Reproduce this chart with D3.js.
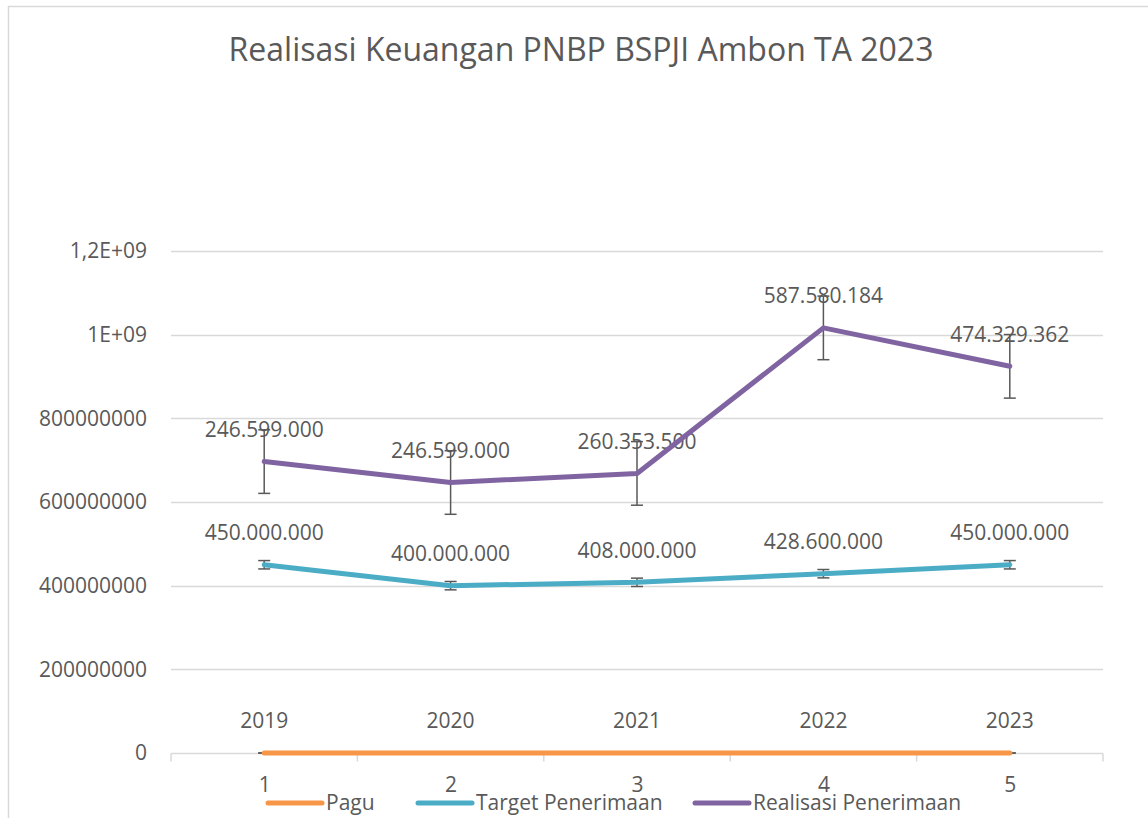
<!DOCTYPE html>
<html>
<head>
<meta charset="utf-8">
<script src="https://cdn.jsdelivr.net/npm/d3@7"></script>
<style>
  html, body { margin: 0; padding: 0; background: #fff; }
  svg { display: block; font-family: "Open Sans", sans-serif; }
</style>
</head>
<body>
<script>
// data (stacked line chart)
const categories = [1, 2, 3, 4, 5];
const pagu = [2019, 2020, 2021, 2022, 2023];
const target = [450000000, 400000000, 408000000, 428600000, 450000000];
const realisasi = [246599000, 246599000, 260353500, 587580184, 474329362];
const errPagu = 0;
const errTarget = 10000000;
const errRealisasi = 76000000;
const yTicks = [0, 200000000, 400000000, 600000000, 800000000, 1000000000, 1200000000];
const yTickLabels = ["0", "200000000", "400000000", "600000000", "800000000", "1E+09", "1,2E+09"];

const width = 1148, height = 818;
const txt = "#595959", grid = "#d9d9d9";
const fs = 21;

const idFmt = d3.formatLocale({decimal: ",", thousands: ".", grouping: [3], currency: ["Rp", ""]}).format(",d");

const series = [
  {name: "Pagu", color: "#f79646", values: pagu, err: errPagu, fmt: d => String(d)},
  {name: "Target Penerimaan", color: "#4bacc6", values: target, err: errTarget, fmt: idFmt},
  {name: "Realisasi Penerimaan", color: "#8064a2", values: realisasi, err: errRealisasi, fmt: idFmt}
];

// stacked cumulative values
let acc = categories.map(() => 0);
series.forEach(s => {
  s.points = categories.map((c, i) => {
    acc[i] += s.values[i];
    return {cat: c, value: s.values[i], top: acc[i]};
  });
});

const svg = d3.select("body").append("svg").attr("width", width).attr("height", height);

// chart frame
svg.append("rect")
  .attr("x", 8.5).attr("y", 6.5).attr("width", 1200).attr("height", 900)
  .attr("fill", "none").attr("stroke", grid).attr("stroke-width", 1.5);

const x = d3.scalePoint().domain(categories).range([171, 1103]).padding(0.5);
const xBand = d3.scaleBand().domain(categories).range([171, 1103]);
const y = d3.scaleLinear().domain([0, 1200000000]).range([753, 251]);

svg.append("text")
  .attr("x", 581).attr("y", 61)
  .attr("text-anchor", "middle")
  .attr("fill", txt)
  .attr("font-size", 32)
  .text("Realisasi Keuangan PNBP BSPJI Ambon TA 2023");

// gridlines
svg.append("g").selectAll("line")
  .data(yTicks.slice(1))
  .join("line")
  .attr("x1", 171).attr("x2", 1103)
  .attr("y1", d => Math.round(y(d)) + 0.5).attr("y2", d => Math.round(y(d)) + 0.5)
  .attr("stroke", grid).attr("stroke-width", 1.5);

// y tick labels
svg.append("g").selectAll("text")
  .data(yTicks)
  .join("text")
  .attr("x", 147).attr("y", d => y(d))
  .attr("dy", "0.35em")
  .attr("text-anchor", "end")
  .attr("fill", txt).attr("font-size", fs)
  .text((d, i) => yTickLabels[i]);

// x axis
const xAxis = d3.axisBottom(x).tickSize(0).tickPadding(0);
const gx = svg.append("g").attr("transform", "translate(0,753.5)").call(xAxis);
gx.select(".domain").remove();
gx.selectAll("text").attr("fill", txt).attr("font-size", fs)
  .attr("font-family", "Open Sans, sans-serif").attr("y", 38).attr("dy", 0);
gx.append("line").attr("x1", 171).attr("x2", 1103)
  .attr("stroke", grid).attr("stroke-width", 1.5);
gx.selectAll(".bound")
  .data([...categories.map(c => xBand(c)), 1103])
  .join("line").attr("class", "bound")
  .attr("x1", d => d).attr("x2", d => d)
  .attr("y1", 0).attr("y2", 8)
  .attr("stroke", grid).attr("stroke-width", 1.5);

// data labels
series.forEach(s => {
  svg.append("g").selectAll("text")
    .data(s.points)
    .join("text")
    .attr("x", d => x(d.cat))
    .attr("y", d => y(d.top) - 32)
    .attr("dy", "0.35em")
    .attr("text-anchor", "middle")
    .attr("fill", txt).attr("font-size", fs)
    .text(d => s.fmt(d.value));
});

// error bars
series.forEach(s => {
  const g = svg.append("g").attr("stroke", "#595959").attr("stroke-width", 1.5);
  s.points.forEach(d => {
    const cx = x(d.cat), y0 = y(d.top - s.err), y1 = y(d.top + s.err);
    g.append("line").attr("x1", cx).attr("x2", cx).attr("y1", y0).attr("y2", y1);
    g.append("line").attr("x1", cx - 6).attr("x2", cx + 6).attr("y1", y0).attr("y2", y0);
    g.append("line").attr("x1", cx - 6).attr("x2", cx + 6).attr("y1", y1).attr("y2", y1);
  });
});

// lines
const line = d3.line().x(d => x(d.cat)).y(d => y(d.top));
series.forEach(s => {
  svg.append("path")
    .datum(s.points)
    .attr("d", line)
    .attr("fill", "none")
    .attr("stroke", s.color)
    .attr("stroke-width", 5)
    .attr("stroke-linecap", "round")
    .attr("stroke-linejoin", "round");
});

// legend
const legendX = [268, 418, 695];
const leg = svg.append("g").selectAll("g")
  .data(series)
  .join("g")
  .attr("transform", (d, i) => `translate(${legendX[i]},803)`);
leg.append("line")
  .attr("x1", 0).attr("x2", 54)
  .attr("stroke", d => d.color).attr("stroke-width", 5).attr("stroke-linecap", "round");
leg.append("text")
  .attr("x", 58).attr("y", 0).attr("dy", "0.35em")
  .attr("fill", txt).attr("font-size", fs)
  .text(d => d.name);
</script>
</body>
</html>
